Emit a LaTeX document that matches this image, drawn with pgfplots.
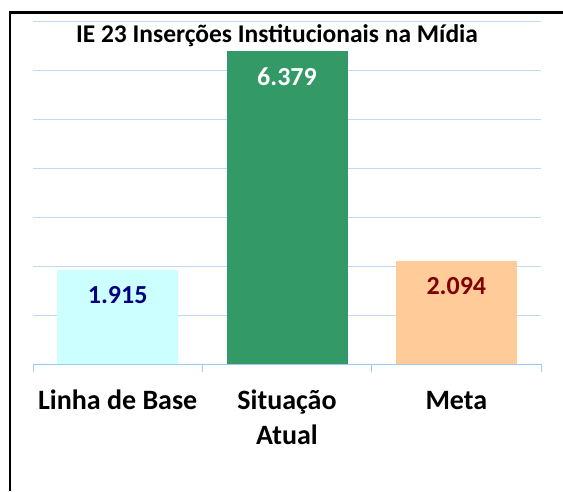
\documentclass[border=0pt]{standalone}
\usepackage{pgfplots}
\pgfplotsset{compat=1.18}
\usepackage{fontspec}
\setmainfont{Carlito}
\definecolor{gridblue}{RGB}{190,218,245}
\definecolor{axblue}{RGB}{160,200,240}
\definecolor{barcyan}{RGB}{204,255,255}
\definecolor{bargreen}{RGB}{51,153,102}
\definecolor{barpeach}{RGB}{255,204,153}
\definecolor{lbldark}{RGB}{0,0,128}
\definecolor{lblred}{RGB}{128,0,0}
\begin{document}
\begin{tikzpicture}[x=1pt,y=1pt]
\path[use as bounding box] (0,0) rectangle (563,491);
\draw[line width=2.5pt,black] (10,0) -- (10,478.5) -- (563,478.5);
\begin{axis}[
  at={(33pt,127pt)}, anchor=south west,
  scale only axis, width=508pt, height=343pt,
  xmin=-0.5, xmax=2.5, ymin=0, ymax=7000,
  ytick={0,1000,...,7000}, yticklabels={},
  ymajorgrids, grid style={gridblue, line width=0.9pt},
  axis y line*=left,
  y axis line style={draw=none},
  ytick style={draw=none},
  axis x line*=bottom,
  x axis line style={axblue, line width=1pt},
  xtick={0,1,2},
  xticklabels={\vphantom{Ãh}Linha de Base, {\vphantom{Ãh}Situação\\Atual}, \vphantom{Ãh}Meta},
  xticklabel style={font=\bfseries\fontsize{28}{35}\selectfont, align=center, anchor=north, yshift=-19pt},
  major tick length=0pt,
  minor xtick={-0.5,0.5,1.5,2.5},
  minor tick length=8pt,
  tick align=outside,
  minor tick style={axblue, line width=1pt},
  ybar, bar width=121pt, bar shift=0pt,
  nodes near coords style={anchor=center, yshift=-25pt, font=\bfseries\fontsize{26}{30}\selectfont},
  clip=false,
]
\addplot[fill=barcyan, draw=none, nodes near coords={1.915}, nodes near coords style={text=lbldark}] coordinates {(0,1915)};
\addplot[fill=bargreen, draw=none, nodes near coords={6.379}, nodes near coords style={text=white}] coordinates {(1,6379)};
\addplot[fill=barpeach, draw=none, nodes near coords={2.094}, nodes near coords style={text=lblred}] coordinates {(2,2094)};
\end{axis}
\node[font=\bfseries\fontsize{25.5}{30}\selectfont] at (277,455) {IE 23 Inserções Institucionais na Mídia};
\end{tikzpicture}
\end{document}
